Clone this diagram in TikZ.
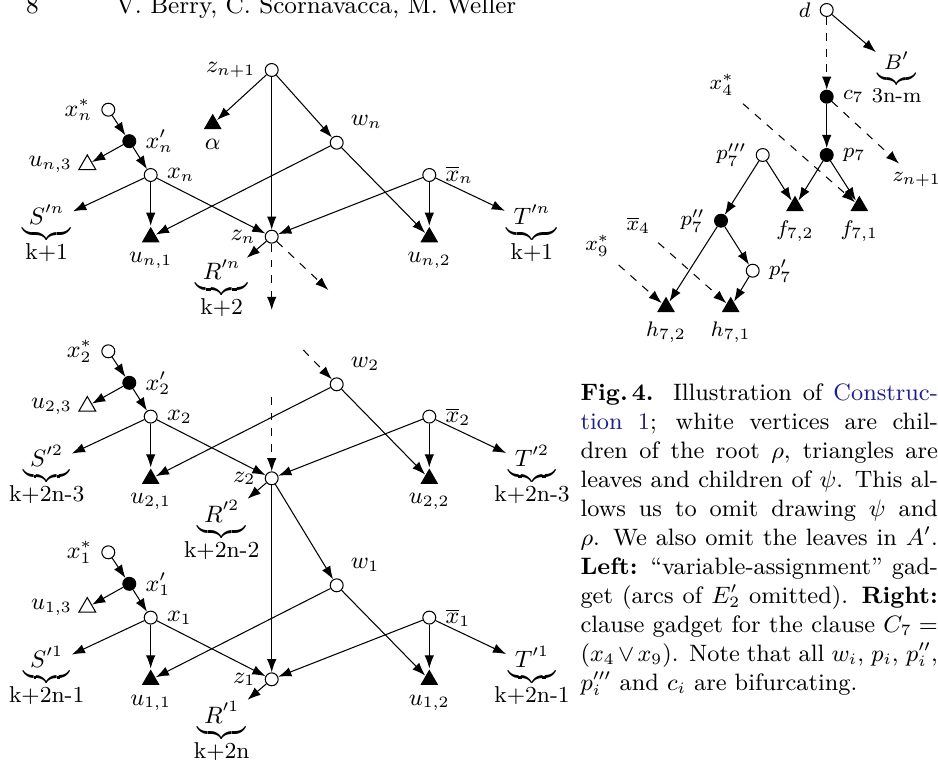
\documentclass[tikz,border=0pt]{standalone}
\usepackage{amsmath,amssymb}
\usepackage{color}
\definecolor{link-blue}{RGB}{30,30,140}
\usepackage{tikz}
\usetikzlibrary{shapes.geometric,arrows.meta}
\newcommand{\figfnt}{\fontsize{8.7}{10}\selectfont}
\newcommand{\clsfnt}{\fontsize{8}{9.5}\selectfont}
\newcommand{\hdfnt}{\fontsize{9.3}{11}\selectfont}

\begin{document}
\begin{tikzpicture}
[
  x=0.3794pt, y=-0.3794pt,
  every node/.style={font=\figfnt},
  vtx/.style={circle,draw,thin,fill=white,inner sep=0pt,minimum size=4.9pt},
  bvtx/.style={vtx,fill=black},
  leaf/.style={regular polygon,regular polygon sides=3,fill=black,inner sep=0pt,minimum size=7.8pt},
  oleaf/.style={leaf,draw,thin,fill=white,minimum size=7.4pt},
  bag/.style={inner sep=0.5pt},
  klab/.style={inner sep=0pt,label distance=-0.8pt},
  >={Latex[length=5pt,width=3.6pt]},
]
\useasboundingbox (0,0) rectangle (938,761);

% page head
\node[anchor=base west,font=\hdfnt] (pg) at (16.7,13.3) {8};
\node[anchor=base west,font=\hdfnt] (rh) at (106.7,13.3) {V. Berry, C. Scornavacca, M. Weller};

% left: variable gadgets
\foreach \i/\zy/\ks/\kr in {n/236.7/k+1/k+2, 2/478.3/k+2n-3/k+2n-2, 1/679.3/k+2n-1/k+2n}{
  \begin{scope}[shift={(271.7,\zy)}]
    \node[vtx,label=left:$z_{\i}$] (z\i) at (0,0) {};
    \node[vtx,label=left:$x_{\i}^*$] (xs\i) at (-163.4,-127) {};
    \node[bvtx,label=right:$x'_{\i}$] (xp\i) at (-142.4,-95.5) {};
    \node[oleaf,label=left:$u_{\i,3}$] (ua\i) at (-184.4,-72) {};
    \node[vtx,label=right:$x_{\i}$] (xx\i) at (-121,-61.7) {};
    \node[leaf,label=below:$u_{\i,1}$] (ub\i) at (-121,0.5) {};
    \node[vtx,label=above right:$w_{\i}$] (w\i) at (65,-94) {};
    \node[vtx,label=right:$\overline{x}_{\i}$] (xb\i) at (157.6,-61.7) {};
    \node[leaf,label=below:$u_{\i,2}$] (uc\i) at (157.6,0.5) {};
    \node[bag,label={[klab]below:\ks}] (s\i) at (-225,-13) {$\underbrace{\;S'^{\i}\;}$};
    \node[bag,label={[klab]below:\ks}] (t\i) at (260.3,-13) {$\underbrace{\;T'^{\i}\;}$};
    \node[bag,label={[klab]below:\kr}] (r\i) at (-50,42.5) {$\underbrace{\;R'^{\i}\;}$};
    \draw[->] (xs\i) -- (xp\i);
    \draw[->] (xp\i) -- (ua\i);
    \draw[->] (xp\i) -- (xx\i);
    \draw[->] (xx\i) -- (s\i);
    \draw[->] (xx\i) -- (ub\i);
    \draw[->] (xx\i) -- (z\i);
    \draw[->] (w\i) -- (ub\i);
    \draw[->] (w\i) -- (uc\i);
    \draw[->] (xb\i) -- (z\i);
    \draw[->] (xb\i) -- (uc\i);
    \draw[->] (xb\i) -- (t\i);
    \draw[->] (z\i) -- (r\i);
  \end{scope}
}
\node[vtx,label=left:$z_{n+1}$] (zn1) at (271.7,70) {};
\node[leaf,label=below:$\alpha$] (al) at (212.7,124) {};
\draw[->] (zn1) -- (al);
\draw[->] (zn1) -- (zn);
\draw[->] (zn1) -- (wn);
\coordinate (dn1) at (271.7,310);
\coordinate (dn2) at (328.3,290);
\coordinate (dz) at (271.7,396.7);
\coordinate (dw) at (303.3,350);
\draw[->,dashed] (zn) -- (dn1);
\draw[->,dashed] (zn) -- (dn2);
\draw[->,dashed] (dz) -- (z2);
\draw[->,dashed] (dw) -- (w2);
\draw[->] (z2) -- (z1);
\draw[->] (z2) -- (w1);

% right: clause gadget
\begin{scope}[every node/.style={font=\clsfnt}]
\node[vtx,label=left:$d$] (d) at (826.7,10) {};
\node[bag,label={[klab]below:3n-m}] (bb) at (896.7,70) {$\underbrace{\;B'\;}$};
\node[bvtx,label=right:$c_7$] (c7) at (826.7,96.7) {};
\node[bvtx,label=right:$p_7$] (p7) at (826.7,155) {};
\node[vtx,label=left:$p_7'''$] (p7c) at (762.7,155) {};
\node[bvtx,label=left:$p_7''$] (p7b) at (721,220.7) {};
\node[vtx,label=right:$p_7'$] (p7a) at (752.7,270.7) {};
\node[leaf,label=below:$f_{7,2}$] (f72) at (795,206) {};
\node[leaf,label=below:$f_{7,1}$] (f71) at (859.3,206) {};
\node[leaf,label=below:$h_{7,2}$] (h72) at (666,307) {};
\node[leaf,label=below:$h_{7,1}$] (h71) at (730.7,307) {};
\node (x4s) at (721.7,85) {$x_4^*$};
\node (x4b) at (638.3,225) {$\overline{x}_4$};
\node (x9s) at (597.3,246) {$x_9^*$};
\node (zn1r) at (916.7,180) {$z_{n+1}$};
\draw[->] (d) -- (bb);
\draw[->,dashed] (d) -- (c7);
\draw[->] (c7) -- (p7);
\draw[->,dashed] (c7) -- (zn1r);
\draw[->] (p7) -- (f72);
\draw[->] (p7) -- (f71);
\draw[->] (p7c) -- (f72);
\draw[->] (p7c) -- (p7b);
\draw[->] (p7b) -- (h72);
\draw[->] (p7b) -- (p7a);
\draw[->] (p7a) -- (h71);
\draw[->,dashed] (x4s) -- (f71);
\draw[->,dashed] (x4b) -- (h71);
\draw[->,dashed] (x9s) -- (h72);
\end{scope}

% caption
\node[anchor=base west,text width=135.6pt,align=justify,font=\small,inner sep=0pt] (cap) at (580,400.7)
{\textbf{Fig.\,4.} Illustration of \textcolor{link-blue}{Construc-}\linebreak
\textcolor{link-blue}{tion 1}; white vertices are chil-\linebreak
dren of the root $\rho$, triangles are\linebreak
leaves and children of $\psi$. This al-\linebreak
lows us to omit drawing $\psi$ and\linebreak
$\rho$. We also omit the leaves in $A'$.\linebreak
\textbf{Left:} ``variable-assignment'' gad-\linebreak
get (arcs of $E'_2$ omitted). \textbf{Right:}\linebreak
clause gadget for the clause $C_7 =$\linebreak
$(x_4 \vee x_9)$. Note that all $w_i$, $p_i$, $p''_i$,\linebreak
$p'''_i$ and $c_i$ are bifurcating.};
\end{tikzpicture}
\end{document}
